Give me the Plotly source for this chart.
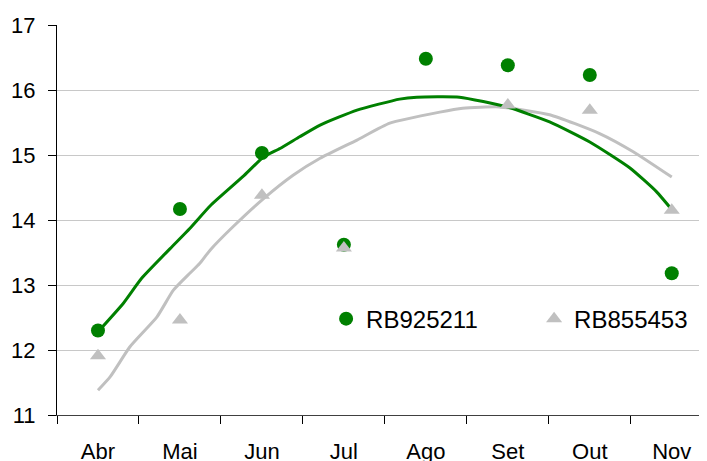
import plotly.graph_objects as go

months = ["Abr", "Mai", "Jun", "Jul", "Ago", "Set", "Out", "Nov"]
rb925211 = [12.3, 14.17, 15.03, 13.62, 16.48, 16.38, 16.23, 13.18]
rb855453 = [11.91, 12.46, 14.38, 13.57, None, 15.77, 15.69, 14.15]

# trend curves (x in category units, 0 = Abr)
trend_g_x = [0, 0.31, 0.53, 0.88, 1.12, 1.37, 1.77, 2.02, 2.22, 2.46, 2.71, 3.16, 3.68, 3.89, 4.41, 4.99, 5.51, 6.0, 6.49, 6.81, 7.0]
trend_g_y = [12.28, 12.72, 13.10, 13.56, 13.87, 14.22, 14.67, 14.97, 15.10, 15.28, 15.46, 15.69, 15.86, 15.89, 15.89, 15.74, 15.51, 15.20, 14.80, 14.44, 14.16]
trend_c_x = [0, 0.15, 0.39, 0.72, 0.92, 1.12, 1.24, 1.37, 1.65, 2.02, 2.38, 2.71, 3.16, 3.56, 4.17, 4.45, 4.9, 5.51, 6.12, 6.53, 7.0]
trend_c_y = [11.38, 11.59, 12.05, 12.51, 12.92, 13.18, 13.33, 13.54, 13.90, 14.33, 14.69, 14.95, 15.23, 15.49, 15.66, 15.72, 15.74, 15.62, 15.33, 15.05, 14.66]

GREEN = "#008000"
GRAY = "#c0c0c0"
FONT = "Liberation Sans, Arial, sans-serif"

xs = list(range(len(months)))

fig = go.Figure()
fig.add_trace(go.Scatter(x=trend_c_x, y=trend_c_y, mode="lines",
                         line=dict(color=GRAY, width=3, shape="spline", smoothing=0.5),
                         showlegend=False, hoverinfo="skip"))
fig.add_trace(go.Scatter(x=trend_g_x, y=trend_g_y, mode="lines",
                         line=dict(color=GREEN, width=3, shape="spline", smoothing=0.5),
                         showlegend=False, hoverinfo="skip"))
fig.add_trace(go.Scatter(x=xs, y=rb925211, mode="markers", name="RB925211",
                         marker=dict(symbol="circle", size=14, color=GREEN),
                         legend="legend"))
fig.add_trace(go.Scatter(x=xs, y=rb855453, mode="markers", name="RB855453",
                         marker=dict(symbol="triangle-up", size=14, color=GRAY),
                         legend="legend2"))

leg_common = dict(xanchor="left", yanchor="middle", y=0.246,
                  bgcolor="rgba(0,0,0,0)", font=dict(family=FONT, size=24, color="black"),
                  itemsizing="trace", tracegroupgap=0)

fig.update_layout(
    width=707, height=461,
    margin=dict(l=49, r=8, t=17, b=54, autoexpand=False),
    paper_bgcolor="white", plot_bgcolor="white",
    font=dict(family=FONT, size=22, color="black"),
    legend=dict(x=0.414, **leg_common),
    legend2=dict(x=0.734, **leg_common),
    xaxis=dict(range=[-0.5, 7.43], tickmode="array", tickvals=xs, ticktext=months,
               ticks="", showgrid=False, zeroline=False, showline=True,
               linecolor="#404040", linewidth=1, ticklabelstandoff=17,
               tickfont=dict(family=FONT, size=22, color="black"), automargin=False,
               minor=dict(ticks="outside", tickmode="array",
                          tickvals=[-0.5 + i for i in range(9)],
                          ticklen=8, tickcolor="black", showgrid=False)),
    yaxis=dict(range=[11, 17], tickmode="array", tickvals=[11, 12, 13, 14, 15, 16, 17],
               ticks="outside", ticklen=8, tickcolor="black",
               tickfont=dict(family=FONT, size=22, color="black"), automargin=False,
               showgrid=True, gridcolor="#c8c8c8", gridwidth=1,
               zeroline=False, showline=True, linecolor="black", linewidth=1,
               ticklabelstandoff=8),
)

fig.write_html("out.html")
